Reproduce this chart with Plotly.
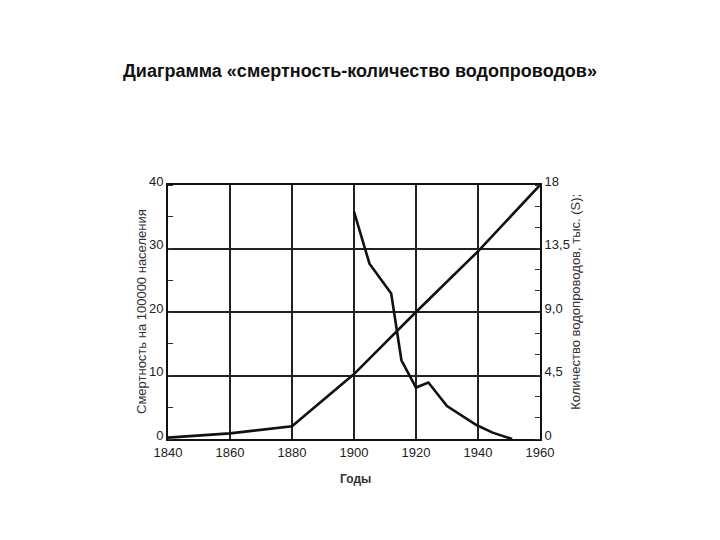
import plotly.graph_objects as go

# Mortality per 100000 population (left axis)
mort_years = [1900, 1905, 1912, 1915.3, 1920, 1924, 1930, 1939.5, 1944.7, 1951]
mort_vals = [35.8, 27.6, 22.9, 12.4, 8.1, 8.9, 5.2, 2.2, 1.0, 0.0]

# Number of water supply systems, thousands (right axis)
water_years = [1840, 1860, 1880, 1900, 1920, 1940, 1960]
water_vals = [0.1, 0.4, 0.9, 4.6, 9.0, 13.3, 18.0]

x_ticks = [1840, 1860, 1880, 1900, 1920, 1940, 1960]
left_ticks = [0, 10, 20, 30, 40]
right_ticks = [0, 4.5, 9.0, 13.5, 18]
right_ticktext = ["0", "4,5", "9,0", "13,5", "18"]

fig = go.Figure()
fig.add_trace(go.Scatter(x=mort_years, y=mort_vals, mode="lines",
                         line=dict(color="#111111", width=2.6), yaxis="y",
                         showlegend=False))
fig.add_trace(go.Scatter(x=water_years, y=water_vals, mode="lines",
                         line=dict(color="#111111", width=2.6), yaxis="y2",
                         showlegend=False))

FONT = "Liberation Sans, Arial, sans-serif"
tickfont = dict(family=FONT, size=13, color="#222222")

fig.update_layout(
    width=720, height=540,
    margin=dict(l=168, r=180, t=185, b=101),
    paper_bgcolor="white", plot_bgcolor="white",
    title=dict(text="<b>Диаграмма «смертность-количество водопроводов»</b>",
               x=0.5, xanchor="center", y=1 - 71 / 540, yanchor="middle",
               yref="container",
               font=dict(family=FONT, size=18, color="#111111")),
    xaxis=dict(range=[1840, 1960], tickvals=x_ticks, ticks="", showgrid=True,
               gridcolor="#222222", gridwidth=1.5, showline=True, linecolor="#111111",
               linewidth=2, mirror=True, zeroline=False, tickfont=tickfont),
    yaxis=dict(range=[0, 40], tickvals=left_ticks, ticks="", showgrid=True,
               gridcolor="#222222", gridwidth=1.5, showline=True, linecolor="#111111",
               linewidth=2, mirror=False, zeroline=False, tickfont=tickfont,
               ticklabelshift=-4,
               minor=dict(dtick=5, ticks="inside", ticklen=5, tickcolor="#333333",
                          tickwidth=1, showgrid=False)),
    yaxis2=dict(range=[0, 18], tickvals=right_ticks, ticktext=right_ticktext,
                overlaying="y", side="right", ticks="", showgrid=False,
                showline=True, linecolor="#111111", linewidth=2, zeroline=False,
                tickfont=tickfont, ticklabelshift=-4,
                minor=dict(dtick=1.5, ticks="inside", ticklen=5, tickcolor="#333333",
                           tickwidth=1, showgrid=False)),
    annotations=[
        dict(text="Смертность на 100000 населения", textangle=-90,
             xref="paper", yref="paper", x=(141 - 168) / 372, y=0.5,
             xanchor="center", yanchor="middle", showarrow=False,
             font=dict(family=FONT, size=13, color="#333333")),
        dict(text="Количество водопроводов, тыс. (S);", textangle=-90,
             xref="paper", yref="paper", x=(576 - 168) / 372, y=0.54,
             xanchor="center", yanchor="middle", showarrow=False,
             font=dict(family=FONT, size=13, color="#333333")),
        dict(text="<b>Годы</b>", xref="paper", yref="paper",
             x=(355 - 168) / 372, y=(439 - 479) / 254,
             xanchor="center", yanchor="middle", showarrow=False,
             font=dict(family=FONT, size=12, color="#333333")),
    ],
)

fig.write_html("out.html")
